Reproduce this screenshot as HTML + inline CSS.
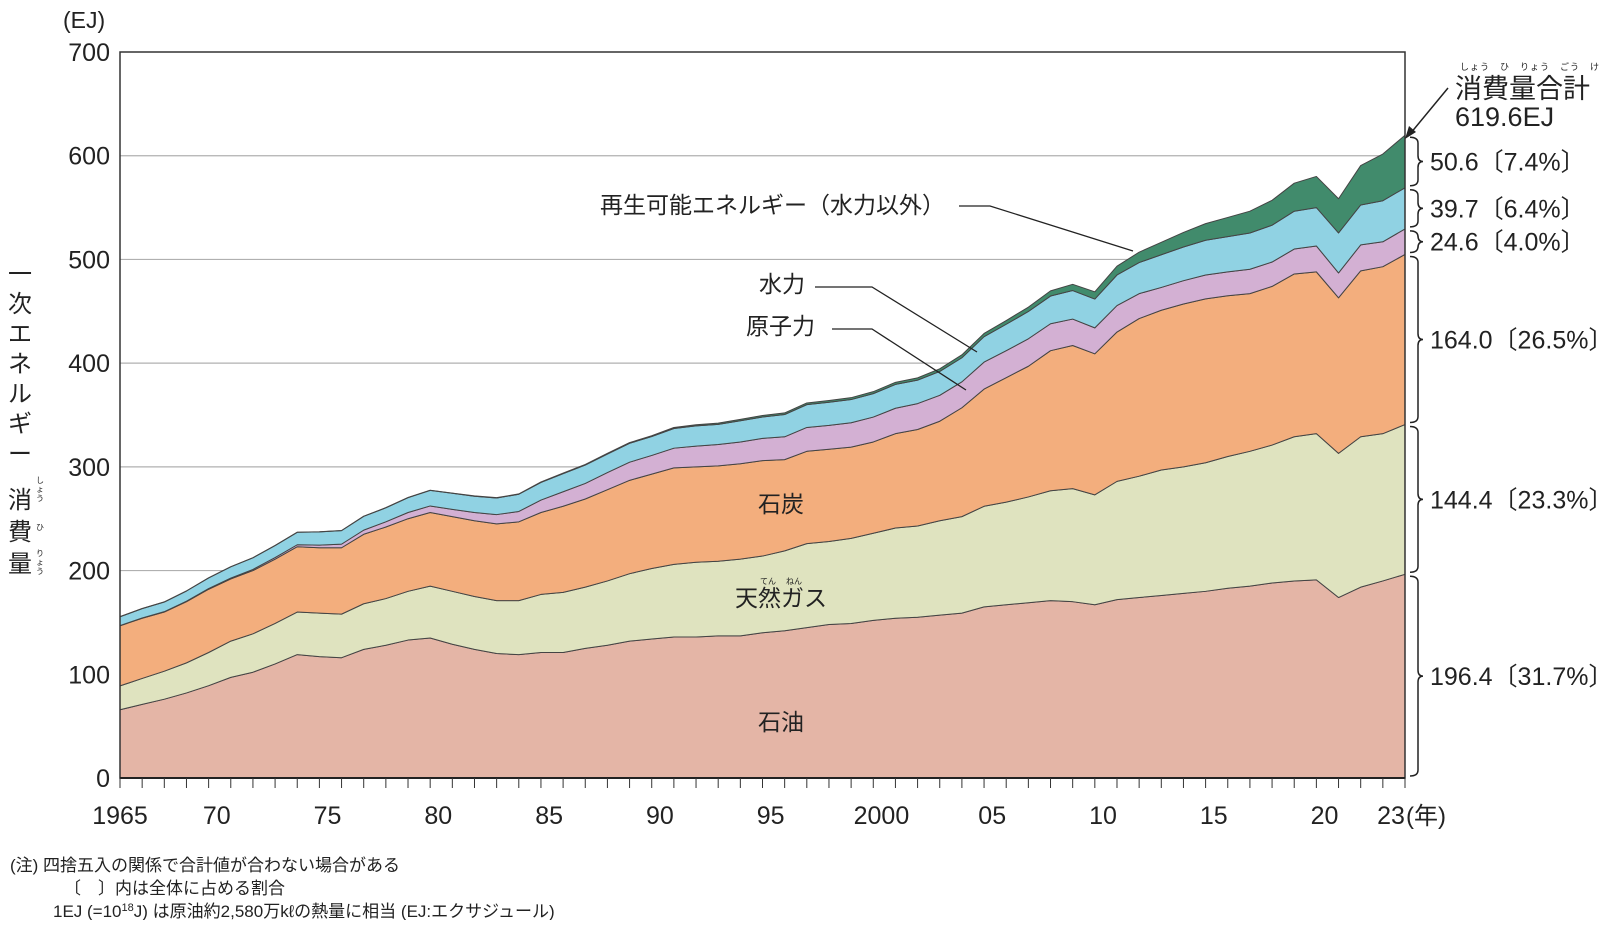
<!DOCTYPE html>
<html><head><meta charset="utf-8"><style>
html,body{margin:0;padding:0;background:#fff;}
svg text{font-family:"Liberation Sans","Noto Sans CJK JP",sans-serif;fill:#222;}
</style></head><body>
<svg id="chart" width="1600" height="920" viewBox="0 0 1600 920" xmlns="http://www.w3.org/2000/svg">
<g id="grid"></g>
<g id="areas"></g>
<g id="axes"></g>
<text x="63" y="28" font-size="23">(EJ)</text>
<g font-size="24">
<text x="8" y="282">一</text><text x="8" y="312">次</text><text x="8" y="342">エ</text><text x="8" y="372">ネ</text><text x="8" y="402">ル</text><text x="8" y="432">ギ</text><text x="8" y="462">ー</text><text x="8" y="508">消</text><text x="8" y="540">費</text><text x="8" y="572">量</text>
<text x="36" y="483" font-size="8">し</text><text x="36" y="492" font-size="8">ょ</text><text x="36" y="501" font-size="8">う</text>
<text x="36" y="530" font-size="8">ひ</text>
<text x="36" y="556" font-size="8">り</text><text x="36" y="565" font-size="8">ょ</text><text x="36" y="574" font-size="8">う</text>
</g>
<g font-size="23">
<text x="600" y="213">再生可能エネルギー（水力以外）</text>
<polyline points="959,206 990,206 1133,251" fill="none" stroke="#222" stroke-width="1.3"/>
<text x="759" y="292">水力</text>
<polyline points="815,287 872,287 977,352" fill="none" stroke="#222" stroke-width="1.3"/>
<text x="746" y="334">原子力</text>
<polyline points="832,329 872,329 966,390" fill="none" stroke="#222" stroke-width="1.3"/>
<text x="781" y="512" text-anchor="middle">石炭</text>
<text x="781" y="606" text-anchor="middle">天然ガス</text>
<text x="760" y="584" font-size="8">てん</text><text x="786" y="584" font-size="8">ねん</text>
<text x="781" y="730" text-anchor="middle">石油</text>
</g>
<g>
<text x="1460" y="70" font-size="9" letter-spacing="1">しょう　ひ　りょう　ごう　けい</text>
<text x="1455" y="98" font-size="27">消費量合計</text>
<text x="1455" y="126" font-size="27">619.6EJ</text>
<line x1="1448" y1="88" x2="1410" y2="134" stroke="#222" stroke-width="1.5"/>
<polygon points="1405,139 1409,126 1416,132" fill="#222"/>
</g>
<g id="right"></g>
<g font-size="17">
<text x="10" y="871">(注) 四捨五入の関係で合計値が合わない場合がある</text>
<text x="64" y="894">〔　〕内は全体に占める割合</text>
<text x="53" y="917">1EJ (=10<tspan font-size="11" dy="-6">18</tspan><tspan dy="6">J) は原油約2,580万kℓの熱量に相当 (EJ:エクサジュール)</tspan></text>
</g>
</svg>
<script>
const years=[];for(let y=1965;y<=2023;y++)years.push(y);
const oil=[65.8,71,76,82,89,97,102,110,119,117,116,124,128,133,135,129,124,120,119,121,121,125,128,132,134,136,136,137,137,140,142,145,148,149,152,154,155,157,159,165,167,169,171,170,167,172,174,176,178,180,183,185,188,190,191,174,184,190,196.4];
const gas=[23,25,27,29,32,35,37,39,41,42,42,44,45,47,50,51,51,51,52,56,58,59,62,65,68,70,72,72,74,74,77,81,80,82,84,87,88,91,93,97,99,102,106,109,106,114,117,121,122,124,127,130,133,139,141,139,145,142,144.4];
const coal=[58,58,57,59,61,60,61,62,63,63,64,67,69,70,71,72,73,74,76,79,83,85,88,90,91,93,92,92,92,92,88,89,89,88,88,91,93,96,105,113,120,126,135,138,136,144,152,154,157,158,155,152,153,157,156,150,160,161,164];
const nuclear=[0.2,0.3,0.4,0.5,0.6,0.8,1.1,1.5,1.9,2.5,3.5,4,5,6,6.3,7,8,9,10,12,14,15,16.5,17.5,18,19,20,20.5,21,21.5,22,23,23,23.5,24,24.5,25,25,25,26,26,26.5,26,25.5,25,25.5,24,22,22.5,23,23,23.5,23.5,24,25,24,25,24,24.6];
const hydro=[8.5,9,9.3,9.8,10.3,10.8,11.2,11.6,12,12.8,13,13.3,13.5,14.3,15,15.5,15.7,16,16.6,17,17.5,17.8,17.9,18.2,18.2,19,19.5,19.5,20.5,20.6,21.5,22,22.3,22.4,22.6,23,22.6,23,23.2,24.5,25.5,26.3,26.7,27.5,27.8,29.5,30,31.5,32.5,33.5,34,35,35.5,36.5,37,38.5,38.5,39.6,39.7];
const renew=[0.1,0.1,0.1,0.1,0.1,0.1,0.1,0.1,0.1,0.1,0.1,0.1,0.2,0.2,0.2,0.2,0.3,0.3,0.3,0.4,0.5,0.5,0.6,0.7,0.8,1.0,1.1,1.2,1.3,1.4,1.5,1.6,1.7,1.8,1.9,2.0,2.2,2.5,2.8,3.1,3.6,4.2,5,6,7,8.5,10,12,14,16,18.5,21,24,27,30,33,38,45,50.6];
const yTicks=[0,100,200,300,400,500,600,700];
const xTickLabels=["1965","70","75","80","85","90","95","2000","05","10","15","20","23"];
const xTickYears=[1965,1970,1975,1980,1985,1990,1995,2000,2005,2010,2015,2020,2023];
const shareLabels=["196.4〔31.7%〕","144.4〔23.3%〕","164.0〔26.5%〕","24.6〔4.0%〕","39.7〔6.4%〕","50.6〔7.4%〕"];

const X0=120,X1=1405,Y0=778,Y1=52;
const xs=y=>X0+(y-1965)*(X1-X0)/(2023-1965);
const ys=v=>Y0-v*(Y0-Y1)/700;
const NS="http://www.w3.org/2000/svg";
function mk(tag,attrs,parent){const e=document.createElementNS(NS,tag);for(const k in attrs)e.setAttribute(k,attrs[k]);parent.appendChild(e);return e;}
const grid=document.getElementById('grid'),areas=document.getElementById('areas'),axes=document.getElementById('axes'),right=document.getElementById('right');
yTicks.forEach(v=>{
  if(v>0&&v<700){const l=mk('line',{x1:X0,x2:X1,y1:ys(v),y2:ys(v),stroke:'#b0b0b0','stroke-width':1.2},grid);
  
  }
  const t=mk('text',{x:110,y:ys(v)+9,'text-anchor':'end','font-size':25},axes);t.textContent=v;
  
  
});
const series=[oil,gas,coal,nuclear,hydro,renew];
const names=['oil','gas','coal','nuclear','hydro','renewables'];
const colors=['#e4b5a6','#dfe3bf','#f3ae7d','#d3b0d3','#90d2e3','#418b6c'];
let base=years.map(()=>0);
const cums=[];
series.forEach((s,i)=>{
  const top=base.map((b,j)=>b+s[j]);
  let d='M'+years.map((y,j)=>xs(y)+','+ys(top[j])).join(' L');
  for(let j=years.length-1;j>=0;j--)d+=' L'+xs(years[j])+','+ys(base[j]);
  d+='Z';
  const p=mk('path',{d:d,fill:colors[i],stroke:'#444','stroke-width':1,'stroke-linejoin':'round'},areas);
  
  
  cums.push([base[base.length-1],top[top.length-1]]);
  base=top;
});
mk('path',{d:`M${X0},${Y0} L${X0},${Y1} L${X1},${Y1} L${X1},${Y0} Z`,fill:'none',stroke:'#333','stroke-width':1.5},axes);
mk('line',{x1:X0,x2:X1,y1:Y0,y2:Y0,stroke:'#222','stroke-width':2},axes);
years.forEach(y=>{mk('line',{x1:xs(y),x2:xs(y),y1:Y0,y2:Y0+10,stroke:'#333','stroke-width':1},axes);});
xTickYears.forEach((y,i)=>{
  const anchorX = i===0? xs(y) : xs(y)-14;
  const t=mk('text',{x:anchorX,y:824,'text-anchor':i===0?'middle':'middle','font-size':25},axes);
  t.textContent=xTickLabels[i];
  
  
});
const nen=mk('text',{x:1406,y:824,'font-size':24},axes);nen.textContent='(年)';


function brace(x,a,b){const m=(a+b)/2,w=8;
  return `M${x},${a} Q${x+w},${a} ${x+w},${a+6} L${x+w},${m-6} Q${x+w},${m} ${x+w+5},${m} Q${x+w},${m} ${x+w},${m+6} L${x+w},${b-6} Q${x+w},${b} ${x},${b}`;}
cums.forEach((c,i)=>{
  const a=ys(c[1])+2,b=ys(c[0])-2;
  const p=mk('path',{d:brace(1410,a,b),fill:'none',stroke:'#222','stroke-width':1.5},right);
  
  
  let ty=(a+b)/2+9;
  const t=mk('text',{x:1430,y:ty,'font-size':25},right);t.textContent=shareLabels[i];
  
  
});
</script>
</body></html>
